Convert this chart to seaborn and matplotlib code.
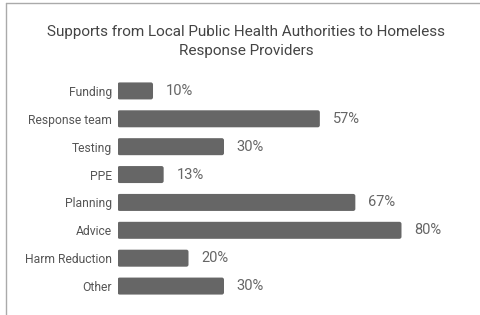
import numpy as np
import pandas as pd
import seaborn as sns
import matplotlib.pyplot as plt
from matplotlib.lines import Line2D
from matplotlib.patches import FancyBboxPatch

categories = ["Funding", "Response team", "Testing", "PPE",
              "Planning", "Advice", "Harm Reduction", "Other"]
percentages = [10, 57, 30, 13, 67, 80, 20, 30]

df = pd.DataFrame({"support": categories, "pct": percentages})

sns.set_theme(style="white")
plt.rcParams['font.family'] = ['Roboto', 'DejaVu Sans']

fig = plt.figure(figsize=(4.81, 3.15), dpi=100)
ax = fig.add_axes([0.2443, 0.0476, 0.738, 0.708])

sns.barplot(data=df, x="pct", y="support", color="#666666",
            saturation=1, width=0.61, ax=ax)

# slightly rounded bar corners like the original
for p in list(ax.patches):
    x0, y0, w, h = p.get_x(), p.get_y(), p.get_width(), p.get_height()
    ax.add_patch(FancyBboxPatch((x0, y0), w, h,
                                boxstyle="round,pad=0,rounding_size=0.6",
                                mutation_aspect=0.125,
                                fc=p.get_facecolor(), ec="none"))
    p.remove()

for i, v in enumerate(percentages):
    ax.text(v + 3.6, i, f"{v}%", va="center", ha="left",
            fontsize=10.5, color="#666666")

ax.set_xlim(0, 100)
ax.set_xlabel("")
ax.set_ylabel("")
ax.set_xticks([])
ax.tick_params(axis="y", length=0, pad=4, labelsize=8.7, labelcolor="#555555")
sns.despine(ax=ax, left=True, bottom=True)

fig.text(0.512, 0.868, "Supports from Local Public Health Authorities to Homeless\nResponse Providers",
         ha="center", va="center", fontsize=11, color="#444444", linespacing=1.5)

# container border seen in the reference (top and left edges)
fig.add_artist(Line2D([6 / 481, 1], [1 - 3 / 315, 1 - 3 / 315], transform=fig.transFigure,
                      color="#aaaaaa", lw=1))
fig.add_artist(Line2D([6 / 481, 6 / 481], [0, 1 - 3 / 315], transform=fig.transFigure,
                      color="#aaaaaa", lw=1))

fig.savefig("out.png", dpi=100)
